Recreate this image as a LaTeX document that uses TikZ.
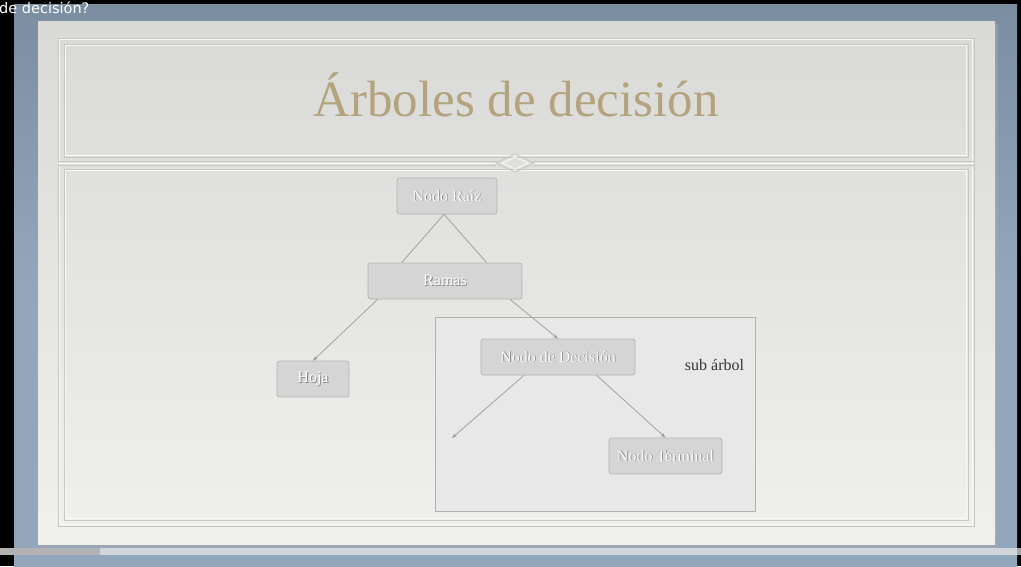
\documentclass[tikz,border=0pt]{standalone}
\usepackage{fontspec}
\setmainfont{Liberation Serif}
\newfontfamily\uisans{DejaVu Sans}
\usetikzlibrary{calc,arrows.meta}
\definecolor{bgblue}{HTML}{93A7BC}
\definecolor{bgbluedark}{HTML}{7A8DA1}
\definecolor{papertop}{HTML}{D9D9D7}
\definecolor{paperbot}{HTML}{F0F0EC}
\definecolor{boxfill}{HTML}{D5D5D5}
\definecolor{boxline}{HTML}{B4B4B4}
\definecolor{subfill}{HTML}{E8E8E8}
\definecolor{subline}{HTML}{B0B0B0}
\definecolor{titlecol}{HTML}{B3A47F}
\definecolor{linkcol}{HTML}{9A9A9A}
\definecolor{embdark}{HTML}{C6C6C2}
\definecolor{emblight}{HTML}{F8F8F6}
\newcommand\shtext[1]{\leavevmode\rlap{\kern0.8pt\raisebox{-0.8pt}{\textcolor{black!50}{#1}}}\textcolor{white}{#1}}
\tikzset{
  treebox/.style={draw=boxline, fill=boxfill, rounded corners=2.5pt, line width=0.7pt,
    inner sep=0pt, font=\fontsize{16}{18}\selectfont},
  link/.style={draw=linkcol, line width=0.7pt},
  arrowlink/.style={link, -{Stealth[length=5pt,width=3.5pt]}},
  embossd/.style={draw=embdark, line width=0.9pt},
  embossl/.style={draw=emblight, line width=0.9pt},
}
\begin{document}
\begin{tikzpicture}[x=1pt,y=-1pt]
\useasboundingbox (0,0) rectangle (1021,566);
% screen background
\fill[black] (0,0) rectangle (1021,566);
\fill[top color=bgbluedark, bottom color=bgblue, middle color=bgblue] (14,4) rectangle (1017,566);
\node[anchor=west, text=white, font=\uisans\fontsize{14.5}{16}\selectfont, inner sep=0pt] (cap) at (-1,8) {de decisión?};
% paper shadow and paper
\fill[black!35, opacity=0.5] (40,24) rectangle (998,547);
\shade[top color=papertop, bottom color=paperbot] (38,21) rectangle (995,544);
% embossed frames
\draw[embossd] (58,38) rectangle (974,526);
\draw[embossl] (59.5,39.5) rectangle (972.5,524.5);
\draw[embossd] (64,44) rectangle (968,157);
\draw[embossl] (65.5,45.5) rectangle (966.5,155.5);
\draw[embossd] (64,169) rectangle (968,520);
\draw[embossl] (65.5,170.5) rectangle (966.5,518.5);
% ornament lines
\draw[embossd] (58,161) -- (498,161) (532,161) -- (974,161);
\draw[embossl] (58,163) -- (498,163) (532,163) -- (974,163);
\draw[embossd] (58,165) -- (496,165) (534,165) -- (974,165);
\draw[embossd, line join=miter] (496,163) -- (515,154) -- (534,163) -- (515,172) -- cycle;
\draw[embossl, line join=miter] (502,163) -- (515,157) -- (528,163) -- (515,169) -- cycle;
% bottom bar
\fill[black!8, opacity=0.7] (0,548) rectangle (1021,555);
\fill[black!30] (0,548) rectangle (100,555);
% title
\node[text=titlecol, font=\fontsize{51}{55}\selectfont, inner sep=0pt, anchor=base] (title) at (516,116) {Árboles de decisión};
% sub tree area
\node[draw=subline, fill=subfill, line width=0.8pt, minimum width=320pt, minimum height=194pt, inner sep=0pt] (sub) at (595,414) {};
\node[text=black!80, font=\fontsize{16}{18}\selectfont, inner sep=0pt] (sublabel) at (714.5,365) {sub árbol};
% nodes
\node[treebox, minimum width=100pt, minimum height=36pt] (raiz) at (447,196) {\shtext{Nodo Raíz}};
\node[treebox, minimum width=154pt, minimum height=36pt] (ramas) at (445,281) {\shtext{Ramas}};
\node[treebox, minimum width=72pt, minimum height=36pt] (hoja) at (313,379) {\shtext{Hoja}};
\node[treebox, minimum width=154pt, minimum height=36pt] (decision) at (558,357) {\shtext{Nodo de Decisión}};
\node[treebox, minimum width=113pt, minimum height=36pt] (terminal) at (665.5,456) {\shtext{Nodo Terminal}};
\coordinate (freeend) at (452,438);
% connectors
\draw[link] ($(raiz.south)+(-3,0)$) -- ($(ramas.north west)!0.22!(ramas.north east)$);
\draw[link] ($(raiz.south)+(-3,0)$) -- ($(ramas.north west)!0.77!(ramas.north east)$);
\draw[arrowlink] ($(ramas.south west)!0.065!(ramas.south east)$) -- (hoja.north);
\draw[arrowlink] ($(ramas.south west)!0.92!(ramas.south east)$) -- (decision.north);
\draw[arrowlink] ($(decision.south west)!0.28!(decision.south east)$) -- (freeend);
\draw[arrowlink] ($(decision.south west)!0.75!(decision.south east)$) -- (terminal.north);
\end{tikzpicture}
\end{document}
